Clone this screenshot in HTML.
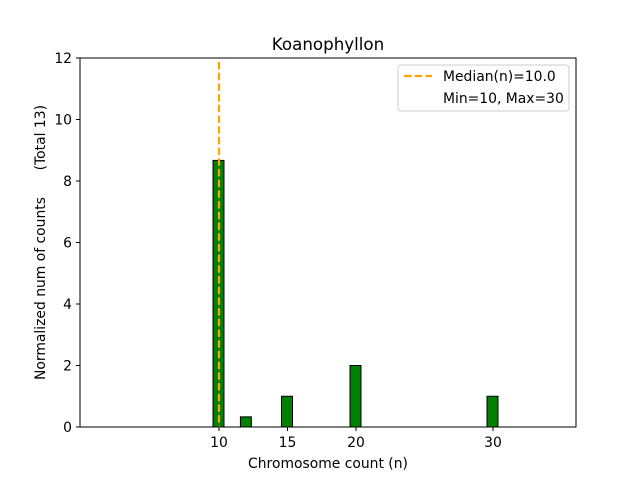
<!DOCTYPE html>
<html><head><meta charset="utf-8"><style>
body{margin:0;background:#fff}
svg{font-family:"DejaVu Sans","Liberation Sans",sans-serif}
</style></head><body>
<svg id="chart" width="640" height="480">
<rect width="640" height="480" fill="#fff"/>
<text x="328" y="50" font-size="16.7" text-anchor="middle">Koanophyllon</text>
<g id="bars"></g>
<g id="xticks"></g>
<g id="yticks"></g>
<line id="median" stroke="#ffa500" stroke-width="2.2" stroke-dasharray="7.5,3.2"/>
<rect x="80" y="58" width="496" height="369" fill="none" stroke="#000" stroke-width="1"/>
<text x="328" y="468" font-size="13.9" text-anchor="middle">Chromosome count (n)</text>
<text transform="translate(45,380) rotate(-90)" font-size="13.9" text-anchor="start">Normalized num of counts</text>
<text transform="translate(45,105) rotate(-90)" font-size="13.9" text-anchor="end">(Total 13)</text>
<g>
<rect x="398" y="65" width="171" height="46" rx="3" fill="#fff" stroke="#ccc"/>
<line x1="404" y1="76" x2="432" y2="76" stroke="#ffa500" stroke-width="2.2" stroke-dasharray="7.5,3.2"/>
<text x="443" y="81" font-size="13.9">Median(n)=10.0</text>
<text x="443" y="103" font-size="13.9">Min=10, Max=30</text>
</g>
</svg>
<script>
const categories=[10,12,15,20,30];
const values=[8.67,0.33,1,2,1];
const xTickLabels=[10,15,20,30];
const yTickLabels=[0,2,4,6,8,10,12];
const medianValue=10;
const NS="http://www.w3.org/2000/svg";
const xs=v=>219+(v-10)*13.7;
const ys=v=>427-v*30.75;
const bars=document.getElementById('bars');
categories.forEach((c,i)=>{
 const r=document.createElementNS(NS,'rect');
 r.setAttribute('x',xs(c-0.4)-0.5);r.setAttribute('width',0.8*13.7);
 r.setAttribute('y',ys(values[i]));r.setAttribute('height',ys(0)-ys(values[i]));
 r.setAttribute('fill','#008000');r.setAttribute('stroke','#000');
 
 
 bars.appendChild(r);
});
const xt=document.getElementById('xticks');
xTickLabels.forEach(v=>{
 const l=document.createElementNS(NS,'line');
 l.setAttribute('x1',xs(v));l.setAttribute('x2',xs(v));l.setAttribute('y1',427);l.setAttribute('y2',431);l.setAttribute('stroke','#000');
 
 
 xt.appendChild(l);
 const t=document.createElementNS(NS,'text');
 t.setAttribute('x',xs(v));t.setAttribute('y',447);t.setAttribute('font-size','13.9');t.setAttribute('text-anchor','middle');t.textContent=v;
 
 
 xt.appendChild(t);
});
const yt=document.getElementById('yticks');
yTickLabels.forEach(v=>{
 const l=document.createElementNS(NS,'line');
 l.setAttribute('x1',76);l.setAttribute('x2',80);l.setAttribute('y1',ys(v));l.setAttribute('y2',ys(v));l.setAttribute('stroke','#000');
 
 
 yt.appendChild(l);
 const t=document.createElementNS(NS,'text');
 t.setAttribute('x',72);t.setAttribute('y',ys(v)+5);t.setAttribute('font-size','13.9');t.setAttribute('text-anchor','end');t.textContent=v;
 
 
 yt.appendChild(t);
});
const m=document.getElementById('median');
m.setAttribute('x1',xs(medianValue));m.setAttribute('x2',xs(medianValue));m.setAttribute('y1',62);m.setAttribute('y2',427);
</script>
</body></html>
